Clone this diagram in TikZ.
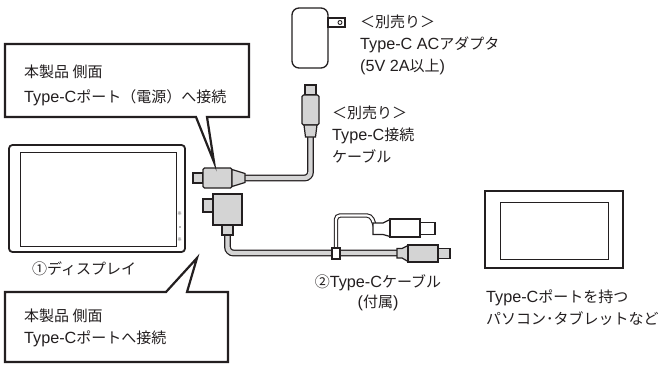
\documentclass[tikz,border=0pt]{standalone}
\usepackage{fontspec}
\setmainfont{Noto Sans CJK JP}
\newfontfamily\lat{Liberation Sans}[Scale=1.08]
\definecolor{ink}{HTML}{231F20}
\definecolor{plug}{HTML}{D4D4D4}
\definecolor{btn}{HTML}{B4B4B4}
\tikzset{
  txt/.style={font=\fontsize{15}{22}\selectfont, text=ink, inner sep=0pt, align=left, anchor=west},
  callout/.style={draw=ink, line width=2.2pt, fill=white, line join=miter},
  plugpart/.style={draw=ink, fill=plug, line width=1.2pt, inner sep=0pt, outer sep=0pt},
  whitepart/.style={plugpart, fill=white},
  cable/.style={draw=ink, double=plug, double distance=4.4pt, line width=1.2pt, rounded corners=6pt},
  thincable/.style={draw=ink, double=white, double distance=2.2pt, line width=1.1pt, rounded corners=4pt},
  frame/.style={draw=ink, line width=1.8pt, rounded corners=3.5pt},
  screen/.style={draw=ink, line width=0.9pt},
}
\begin{document}
\begin{tikzpicture}[x=1pt, y=-1pt]
\useasboundingbox (0,0) rectangle (660,364);
\fill[white] (0,0) rectangle (660,364);

% ---- AC adapter ----
\draw[draw=ink, line width=1.3pt, fill=white, rounded corners=7pt] (292,8) rectangle (328,68);
\draw[draw=ink, line width=1.1pt, fill=white] (328,18) rectangle (345,27);
\draw[draw=ink, line width=0.9pt] (340,22.5) circle (2);

% ---- display ----
\draw[frame] (9,145) rectangle (185,252);
\draw[screen] (20,152) rectangle (176,246);
\foreach \yy in {213,239} {
  \draw[btn, line width=0.5pt] (177.5,\yy) -- (181.5,\yy) (179.5,\yy-2) -- (179.5,\yy+2)
        (178,\yy-1.5) -- (181,\yy+1.5) (178,\yy+1.5) -- (181,\yy-1.5);
}
\fill[btn] (178.5,226) rectangle (180.5,228);

% ---- computer / tablet ----
\draw[draw=ink, line width=1.4pt] (485,191) rectangle (623,268);
\draw[screen] (500,202) rectangle (608,259);

% ---- cable end points ----
\coordinate (pneck) at (310.5,135);
\coordinate (lneck) at (244,178);
\coordinate (dneck) at (227.5,233);
\coordinate (gneck) at (399,253);
\coordinate (clipc) at (336,253.5);
\coordinate (ubend) at (371,215.5);
\coordinate (uneck) at (375,226);

% ---- cables ----
\draw[cable] (pneck) |- (lneck);
\draw[cable] (dneck) |- (gneck);
\draw[thincable] (clipc) |- (ubend) -- (uneck);

% ---- separately sold Type-C cable: top plug ----
\node[plugpart, minimum width=11, minimum height=10] (ptip) at (310.5,90) {};
\node[plugpart, minimum width=17, minimum height=30, rounded corners=1.5pt] (pbody) at (310.5,110) {};
\draw[plugpart] (304,125) -- (317,125) -- (315.5,137) -- (305.5,137) -- cycle;

% ---- separately sold Type-C cable: plug at the display ----
\node[plugpart, minimum width=10, minimum height=10] (ltip) at (198,178) {};
\node[plugpart, minimum width=29, minimum height=20, rounded corners=1.5pt] (lbody) at (217.5,178) {};
\draw[plugpart] (232,169.5) -- (245,173.5) -- (245,182.5) -- (232,186.5) -- cycle;

% ---- bundled cable: L-shaped plug at the display ----
\node[plugpart, minimum width=10, minimum height=13] (dtip) at (208,205.5) {};
\node[plugpart, minimum width=29, minimum height=31] (dbody) at (227.5,209.5) {};
\node[plugpart, minimum width=11, minimum height=10] (dnk) at (227.5,230) {};

% ---- bundled cable: clip and split ----
\node[whitepart, minimum width=8, minimum height=11] (clip) at (clipc) {};

% upper white plug
\draw[whitepart] (373,223) -- (383,223) -- (390,219.5) -- (390,236.5) -- (383,234.5) -- (373,234.5) -- cycle;
\node[whitepart, minimum width=30, minimum height=18] (ubody) at (405,228) {};
\node[whitepart, minimum width=15, minimum height=12] (utip) at (427.5,228.5) {};

% lower grey plug
\draw[plugpart] (397,248.5) -- (402,248.5) -- (408,245.5) -- (408,261.5) -- (402,258) -- (397,258) -- cycle;
\node[plugpart, minimum width=30, minimum height=17] (gbody) at (423,253.5) {};
\node[plugpart, minimum width=12, minimum height=10] (gtip) at (444,253.5) {};

% ---- callouts ----
\draw[callout] (5,44) -- (249,44) -- (249,117) -- (207,117) -- (214,162) -- (196,117) -- (5,117) -- cycle;
\draw[callout] (5,292) -- (166,292) -- (197,258) -- (187,292) -- (228,292) -- (228,362) -- (5,362) -- cycle;

% ---- labels ----
\node[txt] (adtxt) at (360,45) {＜別売り＞\\{\lat Type-C AC}アダプタ\\{\lat (5V 2A}以上{\lat )}};
\node[txt, font=\fontsize{15}{25}\selectfont] (toptxt) at (24,85) {本製品 側面\\{\lat Type-C}ポート（電源）へ接続};
\node[txt] (cbtxt) at (332,134) {＜別売り＞\\{\lat Type-C}接続\\ケーブル};
\node[txt] (disptxt) at (32,269) {①ディスプレイ};
\node[txt, align=center, anchor=center, font=\fontsize{15}{20}\selectfont] (bundtxt) at (378,293) {②{\lat Type-C}ケーブル\\{\lat (}付属{\lat )}};
\node[txt] (pctxt) at (486,307.5) {{\lat Type-C}ポートを持つ\\パソコン･タブレットなど};
\node[txt] (bottxt) at (24,328) {本製品 側面\\{\lat Type-C}ポートへ接続};
\end{tikzpicture}
\end{document}
